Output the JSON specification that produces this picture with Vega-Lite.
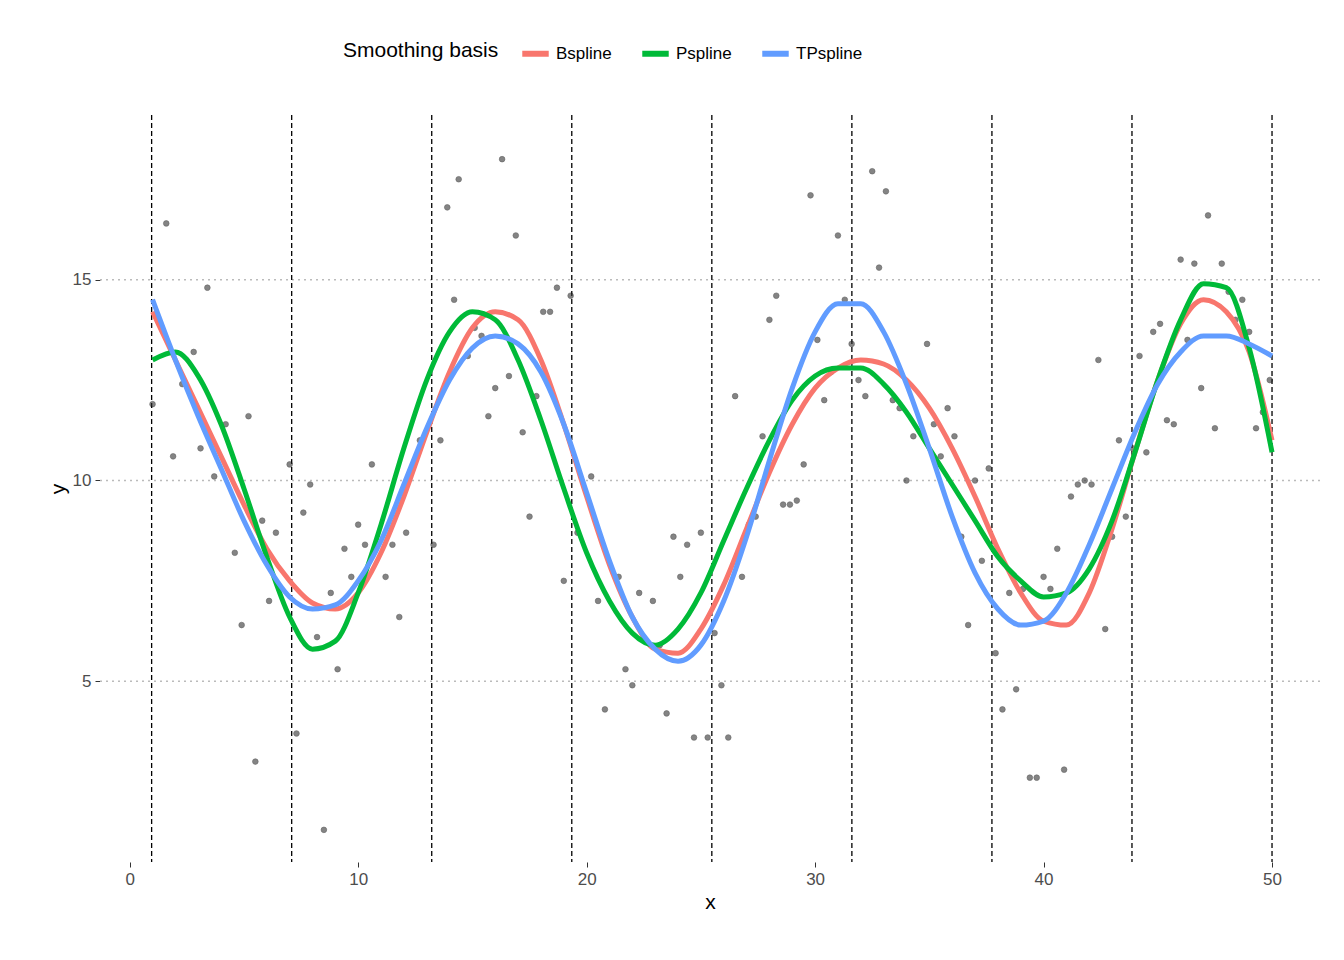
{
"$schema":"https://vega.github.io/schema/vega-lite/v6.json",
"width":1220,"height":747,
"autosize":"none",
"padding":{"left":100,"top":115,"right":24,"bottom":98},
"background":"white",
"config":{"view":{"stroke":null},"font":"Liberation Sans",
 "axis":{"grid":false,"domain":false,"tickColor":"#333333","tickSize":5,"labelColor":"#4d4d4d","labelFontSize":17,"titleFontSize":21,"titleFontWeight":"normal","titleColor":"black","labelPadding":4}},
"datasets":{
"knots":[{"k":0.96},{"k":7.09},{"k":13.22},{"k":19.35},{"k":25.48},{"k":31.61},{"k":37.74},{"k":43.87},{"k":50}],
"grid":[{"v":5},{"v":10},{"v":15}],
"pts":[{"x":1.0,"y":11.9},{"x":1.6,"y":16.4},{"x":1.9,"y":10.6},{"x":2.3,"y":12.4},{"x":2.8,"y":13.2},{"x":3.1,"y":10.8},{"x":3.4,"y":14.8},{"x":3.7,"y":10.1},{"x":4.2,"y":11.4},{"x":4.6,"y":8.2},{"x":4.9,"y":6.4},{"x":5.2,"y":11.6},{"x":5.5,"y":3.0},{"x":5.8,"y":9.0},{"x":6.1,"y":7.0},{"x":6.4,"y":8.7},{"x":7.0,"y":10.4},{"x":7.3,"y":3.7},{"x":7.6,"y":9.2},{"x":7.9,"y":9.9},{"x":8.2,"y":6.1},{"x":8.5,"y":1.3},{"x":8.8,"y":7.2},{"x":9.1,"y":5.3},{"x":9.4,"y":8.3},{"x":9.7,"y":7.6},{"x":10.0,"y":8.9},{"x":10.3,"y":8.4},{"x":10.6,"y":10.4},{"x":11.2,"y":7.6},{"x":11.5,"y":8.4},{"x":11.8,"y":6.6},{"x":12.1,"y":8.7},{"x":12.7,"y":11.0},{"x":13.3,"y":8.4},{"x":13.6,"y":11.0},{"x":13.9,"y":16.8},{"x":14.2,"y":14.5},{"x":14.4,"y":17.5},{"x":14.8,"y":13.1},{"x":15.1,"y":13.8},{"x":15.4,"y":13.6},{"x":15.7,"y":11.6},{"x":16.0,"y":12.3},{"x":16.3,"y":18.0},{"x":16.6,"y":12.6},{"x":16.9,"y":16.1},{"x":17.2,"y":11.2},{"x":17.5,"y":9.1},{"x":17.8,"y":12.1},{"x":18.1,"y":14.2},{"x":18.4,"y":14.2},{"x":18.7,"y":14.8},{"x":19.0,"y":7.5},{"x":19.3,"y":14.6},{"x":19.6,"y":8.7},{"x":20.2,"y":10.1},{"x":20.5,"y":7.0},{"x":20.8,"y":4.3},{"x":21.4,"y":7.6},{"x":21.7,"y":5.3},{"x":22.0,"y":4.9},{"x":22.3,"y":7.2},{"x":22.9,"y":7.0},{"x":23.2,"y":5.9},{"x":23.5,"y":4.2},{"x":23.8,"y":8.6},{"x":24.1,"y":7.6},{"x":24.4,"y":8.4},{"x":24.7,"y":3.6},{"x":25.0,"y":8.7},{"x":25.3,"y":3.6},{"x":25.6,"y":6.2},{"x":25.9,"y":4.9},{"x":26.2,"y":3.6},{"x":26.5,"y":12.1},{"x":26.8,"y":7.6},{"x":27.1,"y":8.9},{"x":27.4,"y":9.1},{"x":27.7,"y":11.1},{"x":28.0,"y":14.0},{"x":28.3,"y":14.6},{"x":28.6,"y":9.4},{"x":28.9,"y":9.4},{"x":29.2,"y":9.5},{"x":29.5,"y":10.4},{"x":29.8,"y":17.1},{"x":30.1,"y":13.5},{"x":30.4,"y":12.0},{"x":30.7,"y":12.7},{"x":31.0,"y":16.1},{"x":31.3,"y":14.5},{"x":31.6,"y":13.4},{"x":31.9,"y":12.5},{"x":32.2,"y":12.1},{"x":32.5,"y":17.7},{"x":32.8,"y":15.3},{"x":33.1,"y":17.2},{"x":33.4,"y":12.0},{"x":33.7,"y":11.8},{"x":34.0,"y":10.0},{"x":34.3,"y":11.1},{"x":34.9,"y":13.4},{"x":35.2,"y":11.4},{"x":35.5,"y":10.6},{"x":35.8,"y":11.8},{"x":36.1,"y":11.1},{"x":36.4,"y":8.6},{"x":36.7,"y":6.4},{"x":37.0,"y":10.0},{"x":37.3,"y":8.0},{"x":37.6,"y":10.3},{"x":37.9,"y":5.7},{"x":38.2,"y":4.3},{"x":38.5,"y":7.2},{"x":38.8,"y":4.8},{"x":39.1,"y":7.3},{"x":39.4,"y":2.6},{"x":39.7,"y":2.6},{"x":40.0,"y":7.6},{"x":40.3,"y":7.3},{"x":40.6,"y":8.3},{"x":40.9,"y":2.8},{"x":41.2,"y":9.6},{"x":41.5,"y":9.9},{"x":41.8,"y":10.0},{"x":42.1,"y":9.9},{"x":42.4,"y":13.0},{"x":42.7,"y":6.3},{"x":43.0,"y":8.6},{"x":43.3,"y":11.0},{"x":43.6,"y":9.1},{"x":43.9,"y":10.8},{"x":44.2,"y":13.1},{"x":44.5,"y":10.7},{"x":44.8,"y":13.7},{"x":45.1,"y":13.9},{"x":45.4,"y":11.5},{"x":45.7,"y":11.4},{"x":46.0,"y":15.5},{"x":46.3,"y":13.5},{"x":46.6,"y":15.4},{"x":46.9,"y":12.3},{"x":47.2,"y":16.6},{"x":47.5,"y":11.3},{"x":47.8,"y":15.4},{"x":48.1,"y":14.7},{"x":48.4,"y":14.0},{"x":48.7,"y":14.5},{"x":49.0,"y":13.7},{"x":49.3,"y":11.3},{"x":49.6,"y":11.7},{"x":49.9,"y":12.5}],
"curves":[
{"b":"Bspline","x":1,"y":14.2},{"b":"Bspline","x":2,"y":13.0},{"b":"Bspline","x":3,"y":11.8},{"b":"Bspline","x":4,"y":10.6},{"b":"Bspline","x":5,"y":9.4},{"b":"Bspline","x":6,"y":8.3},{"b":"Bspline","x":7,"y":7.5},{"b":"Bspline","x":8,"y":6.95},{"b":"Bspline","x":9,"y":6.8},{"b":"Bspline","x":10,"y":7.2},{"b":"Bspline","x":11,"y":8.2},{"b":"Bspline","x":12,"y":9.6},{"b":"Bspline","x":13,"y":11.2},{"b":"Bspline","x":14,"y":12.7},{"b":"Bspline","x":15,"y":13.8},{"b":"Bspline","x":16,"y":14.2},{"b":"Bspline","x":17,"y":14.0},{"b":"Bspline","x":18,"y":13.0},{"b":"Bspline","x":19,"y":11.4},{"b":"Bspline","x":20,"y":9.6},{"b":"Bspline","x":21,"y":7.9},{"b":"Bspline","x":22,"y":6.6},{"b":"Bspline","x":23,"y":5.8},{"b":"Bspline","x":24,"y":5.7},{"b":"Bspline","x":25,"y":6.3},{"b":"Bspline","x":26,"y":7.4},{"b":"Bspline","x":27,"y":8.8},{"b":"Bspline","x":28,"y":10.2},{"b":"Bspline","x":29,"y":11.4},{"b":"Bspline","x":30,"y":12.3},{"b":"Bspline","x":31,"y":12.8},{"b":"Bspline","x":32,"y":13.0},{"b":"Bspline","x":33,"y":12.9},{"b":"Bspline","x":34,"y":12.5},{"b":"Bspline","x":35,"y":11.8},{"b":"Bspline","x":36,"y":10.8},{"b":"Bspline","x":37,"y":9.6},{"b":"Bspline","x":38,"y":8.3},{"b":"Bspline","x":39,"y":7.2},{"b":"Bspline","x":40,"y":6.5},{"b":"Bspline","x":41,"y":6.4},{"b":"Bspline","x":42,"y":7.2},{"b":"Bspline","x":43,"y":8.8},{"b":"Bspline","x":44,"y":10.7},{"b":"Bspline","x":45,"y":12.5},{"b":"Bspline","x":46,"y":13.9},{"b":"Bspline","x":47,"y":14.5},{"b":"Bspline","x":48,"y":14.2},{"b":"Bspline","x":49,"y":13.2},{"b":"Bspline","x":50,"y":11.0},
{"b":"Pspline","x":1,"y":13.0},{"b":"Pspline","x":2,"y":13.2},{"b":"Pspline","x":3,"y":12.6},{"b":"Pspline","x":4,"y":11.4},{"b":"Pspline","x":5,"y":9.8},{"b":"Pspline","x":6,"y":8.1},{"b":"Pspline","x":7,"y":6.6},{"b":"Pspline","x":8,"y":5.8},{"b":"Pspline","x":9,"y":6.0},{"b":"Pspline","x":10,"y":7.2},{"b":"Pspline","x":11,"y":8.9},{"b":"Pspline","x":12,"y":10.8},{"b":"Pspline","x":13,"y":12.5},{"b":"Pspline","x":14,"y":13.7},{"b":"Pspline","x":15,"y":14.2},{"b":"Pspline","x":16,"y":14.0},{"b":"Pspline","x":17,"y":13.0},{"b":"Pspline","x":18,"y":11.5},{"b":"Pspline","x":19,"y":9.8},{"b":"Pspline","x":20,"y":8.2},{"b":"Pspline","x":21,"y":7.0},{"b":"Pspline","x":22,"y":6.2},{"b":"Pspline","x":23,"y":5.9},{"b":"Pspline","x":24,"y":6.3},{"b":"Pspline","x":25,"y":7.2},{"b":"Pspline","x":26,"y":8.5},{"b":"Pspline","x":27,"y":9.8},{"b":"Pspline","x":28,"y":11.0},{"b":"Pspline","x":29,"y":12.0},{"b":"Pspline","x":30,"y":12.6},{"b":"Pspline","x":31,"y":12.8},{"b":"Pspline","x":32,"y":12.8},{"b":"Pspline","x":33,"y":12.4},{"b":"Pspline","x":34,"y":11.7},{"b":"Pspline","x":35,"y":10.8},{"b":"Pspline","x":36,"y":9.9},{"b":"Pspline","x":37,"y":9.0},{"b":"Pspline","x":38,"y":8.1},{"b":"Pspline","x":39,"y":7.5},{"b":"Pspline","x":40,"y":7.1},{"b":"Pspline","x":41,"y":7.2},{"b":"Pspline","x":42,"y":7.8},{"b":"Pspline","x":43,"y":9.0},{"b":"Pspline","x":44,"y":10.7},{"b":"Pspline","x":45,"y":12.5},{"b":"Pspline","x":46,"y":14.0},{"b":"Pspline","x":47,"y":14.9},{"b":"Pspline","x":48,"y":14.8},{"b":"Pspline","x":49,"y":13.3},{"b":"Pspline","x":50,"y":10.7},
{"b":"TPspline","x":1,"y":14.5},{"b":"TPspline","x":2,"y":13.0},{"b":"TPspline","x":3,"y":11.6},{"b":"TPspline","x":4,"y":10.3},{"b":"TPspline","x":5,"y":9.0},{"b":"TPspline","x":6,"y":7.9},{"b":"TPspline","x":7,"y":7.1},{"b":"TPspline","x":8,"y":6.8},{"b":"TPspline","x":9,"y":6.9},{"b":"TPspline","x":10,"y":7.5},{"b":"TPspline","x":11,"y":8.5},{"b":"TPspline","x":12,"y":9.9},{"b":"TPspline","x":13,"y":11.3},{"b":"TPspline","x":14,"y":12.5},{"b":"TPspline","x":15,"y":13.3},{"b":"TPspline","x":16,"y":13.6},{"b":"TPspline","x":17,"y":13.4},{"b":"TPspline","x":18,"y":12.7},{"b":"TPspline","x":19,"y":11.4},{"b":"TPspline","x":20,"y":9.7},{"b":"TPspline","x":21,"y":8.0},{"b":"TPspline","x":22,"y":6.6},{"b":"TPspline","x":23,"y":5.8},{"b":"TPspline","x":24,"y":5.5},{"b":"TPspline","x":25,"y":5.9},{"b":"TPspline","x":26,"y":7.0},{"b":"TPspline","x":27,"y":8.6},{"b":"TPspline","x":28,"y":10.5},{"b":"TPspline","x":29,"y":12.3},{"b":"TPspline","x":30,"y":13.7},{"b":"TPspline","x":31,"y":14.4},{"b":"TPspline","x":32,"y":14.4},{"b":"TPspline","x":33,"y":13.7},{"b":"TPspline","x":34,"y":12.4},{"b":"TPspline","x":35,"y":10.8},{"b":"TPspline","x":36,"y":9.1},{"b":"TPspline","x":37,"y":7.7},{"b":"TPspline","x":38,"y":6.8},{"b":"TPspline","x":39,"y":6.4},{"b":"TPspline","x":40,"y":6.5},{"b":"TPspline","x":41,"y":7.2},{"b":"TPspline","x":42,"y":8.4},{"b":"TPspline","x":43,"y":9.8},{"b":"TPspline","x":44,"y":11.2},{"b":"TPspline","x":45,"y":12.4},{"b":"TPspline","x":46,"y":13.2},{"b":"TPspline","x":47,"y":13.6},{"b":"TPspline","x":48,"y":13.6},{"b":"TPspline","x":49,"y":13.4},{"b":"TPspline","x":50,"y":13.1}]
},
"layer":[
{"data":{"name":"grid"},"mark":{"type":"rule","color":"#bbbbbb","strokeDash":[2,4],"strokeWidth":1.5},
 "encoding":{"y":{"field":"v","type":"quantitative","scale":{"domain":[0.5,19.1],"nice":false,"zero":false},"axis":{"title":"y","values":[5,10,15],"titleAngle":-90}}}},
{"data":{"name":"knots"},"mark":{"type":"rule","color":"black","strokeDash":[5,3],"strokeWidth":1.3},
 "encoding":{"x":{"field":"k","type":"quantitative","scale":{"domain":[-1.3,52.1],"nice":false,"zero":false},"axis":{"title":"x","values":[0,10,20,30,40,50]}}}},
{"data":{"name":"pts"},"mark":{"type":"circle","size":32,"fill":"#333333","opacity":0.6,"stroke":"black","strokeWidth":0.6},
 "encoding":{"x":{"field":"x","type":"quantitative"},"y":{"field":"y","type":"quantitative"}}},
{"data":{"name":"curves"},"mark":{"type":"line","interpolate":"monotone","strokeWidth":5},
 "encoding":{"x":{"field":"x","type":"quantitative"},"y":{"field":"y","type":"quantitative"},
  "color":{"field":"b","type":"nominal","scale":{"domain":["Bspline","Pspline","TPspline"],"range":["#F8766D","#00BA38","#619CFF"]},
   "legend":{"title":"Smoothing basis","orient":"none","legendX":243,"legendY":-78,"direction":"horizontal","titleOrient":"left","titleFontSize":21,"titleFontWeight":"normal","titleColor":"black","labelFontSize":17,"labelColor":"black","symbolType":"stroke","symbolStrokeWidth":6,"symbolSize":700,"columnPadding":18,"titlePadding":20}}}}
]
}
